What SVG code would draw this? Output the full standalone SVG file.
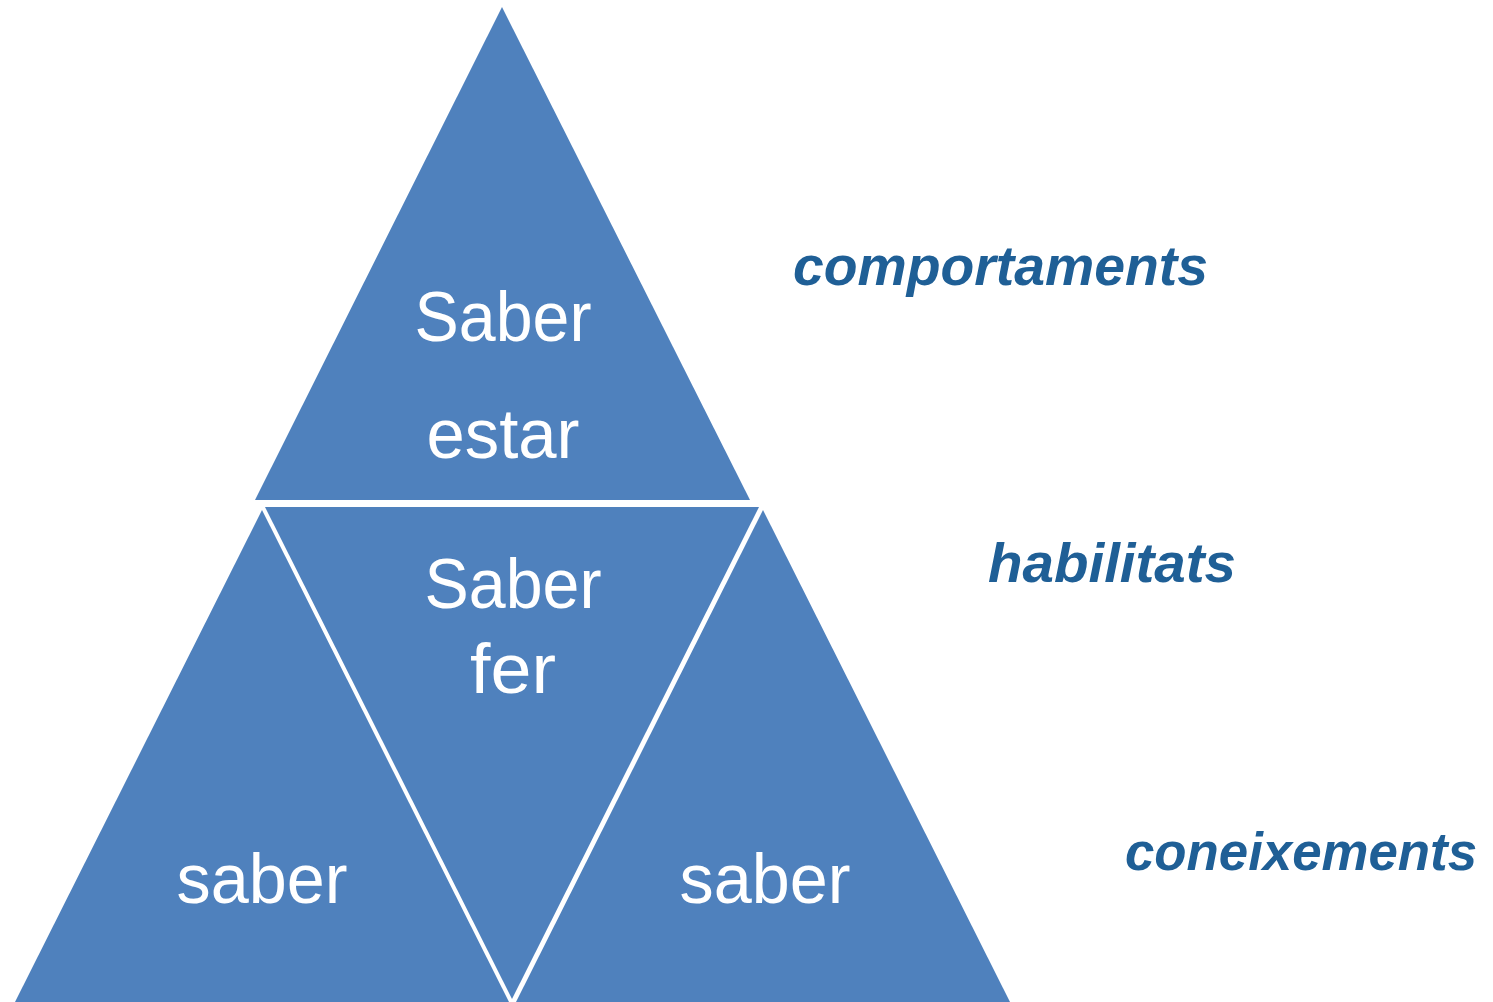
<svg xmlns="http://www.w3.org/2000/svg" width="1493" height="1002" viewBox="0 0 1493 1002">
<style>
.tri{fill:#4F81BD;stroke:#FFFFFF;stroke-width:0}
.t{font-family:"Liberation Sans",Arial,sans-serif;font-size:70px;fill:#FFFFFF;text-anchor:middle}
.lbl{font-family:"Liberation Sans",Arial,sans-serif;font-size:56px;font-weight:bold;font-style:italic;fill:#1F5F96}
</style>
<rect width="1493" height="1002" fill="#FFFFFF"/>
<g id="top">
<polygon class="tri" points="502,7 750,500 255,500"/>
<text class="t" x="503" y="341" textLength="177" lengthAdjust="spacingAndGlyphs">Saber</text>
<text class="t" x="503" y="458" textLength="153" lengthAdjust="spacingAndGlyphs">estar</text>
</g>
<g id="bottom-left">
<polygon class="tri" points="262,510 509,1002 15,1002"/>
<text class="t" x="262" y="903" textLength="171" lengthAdjust="spacingAndGlyphs">saber</text>
</g>
<g id="middle">
<polygon class="tri" points="265,507 759,507 512,999"/>
<text class="t" x="513" y="608" textLength="177" lengthAdjust="spacingAndGlyphs">Saber</text>
<text class="t" x="513" y="693" textLength="86" lengthAdjust="spacingAndGlyphs">fer</text>
</g>
<g id="bottom-right">
<polygon class="tri" points="763,510 1010,1002 516,1002"/>
<text class="t" x="765" y="903" textLength="171" lengthAdjust="spacingAndGlyphs">saber</text>
</g>
<g id="labels">
<text class="lbl" x="793" y="285" textLength="415" lengthAdjust="spacingAndGlyphs">comportaments</text>
<text class="lbl" x="988" y="582" textLength="248" lengthAdjust="spacingAndGlyphs">habilitats</text>
<text class="lbl" x="1125" y="870" font-size="53" style="font-size:53px" textLength="352" lengthAdjust="spacingAndGlyphs">coneixements</text>
</g>
<g id="connectors"></g>
</svg>
